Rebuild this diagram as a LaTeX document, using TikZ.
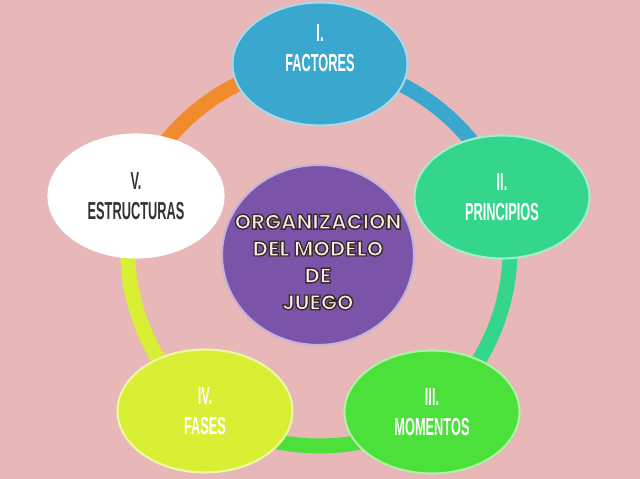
\documentclass[tikz,border=0pt]{standalone}
\usepackage{fontspec}
\usetikzlibrary{shapes.geometric}
\newfontfamily\labelfont[FakeStretch=0.52]{Liberation Sans}
\newfontfamily\titlefont{Poppins}
\definecolor{backpink}{HTML}{E8B8B9}
\definecolor{factblue}{HTML}{3AA8CE}
\definecolor{princgreen}{HTML}{33D68B}
\definecolor{momgreen}{HTML}{4CE03A}
\definecolor{fasyellow}{HTML}{D8EF33}
\definecolor{ringorange}{HTML}{F28B2C}
\definecolor{hubpurple}{HTML}{7B53A8}
\definecolor{titlecream}{HTML}{F7EFDF}
% outlined letters: fill, then stroke in dark brown
\newcommand\edged[1]{\special{pdf:literal direct 2 Tr 0.8 w 0.23 0.17 0.18 RG}#1\special{pdf:literal direct 0 Tr}}
\tikzset{
  bubble/.style={ellipse, minimum width=3.5cm, minimum height=2.46cm, inner sep=0pt, line width=1.2pt},
  ringarc/.style={line width=8.5pt, line cap=butt, bend left=36, looseness=0.88},
  steptext/.style={font=\labelfont\bfseries\fontsize{14}{17}\selectfont, text=white, align=center},
  hubtext/.style={font=\titlefont\bfseries\fontsize{12}{15.3}\selectfont, text=titlecream, align=center},
}
\begin{document}
\begin{tikzpicture}[x=0.02cm, y=-0.02cm]
% Background and page size
\fill[backpink] (0,0) rectangle (640,479);
\useasboundingbox (0,0) rectangle (640,479);

% Define the five stages
\coordinate (fac) at (320,64);
\coordinate (pri) at (502,197);
\coordinate (mom) at (432,412);
\coordinate (fas) at (205,411);
\coordinate (est) at (136,196);

% Draw the ring between the stages
\foreach \from/\to/\col in {est/fac/ringorange, fac/pri/factblue, pri/mom/princgreen, mom/fas/momgreen, fas/est/fasyellow}
  \draw[ringarc, draw=\col] (\from) to (\to);

% Draw the stages
\node[bubble, fill=factblue, draw=factblue!45!white, label={[steptext, yshift=9pt]center:{I.\\FACTORES}}] (facnode) at (fac) {};
\node[bubble, fill=princgreen, draw=princgreen!45!white, label={[steptext]center:{II.\\PRINCIPIOS}}] (prinode) at (pri) {};
\node[bubble, fill=momgreen, draw=momgreen!45!white, label={[steptext]center:{III.\\MOMENTOS}}] (momnode) at (mom) {};
\node[bubble, fill=fasyellow, draw=fasyellow!45!white, label={[steptext]center:{IV.\\FASES}}] (fasnode) at (fas) {};
\node[bubble, fill=white, draw=white, label={[steptext, text=black!80]center:{V.\\ESTRUCTURAS}}] (estnode) at (est) {};

% Draw the centre
\node[ellipse, fill=hubpurple, draw=hubpurple!45!white, line width=1.2pt, minimum width=3.84cm, minimum height=3.6cm, inner sep=0pt,
      label={[hubtext, yshift=-4pt]center:{\edged{ORGANIZACION}\\\edged{DEL MODELO}\\\edged{DE}\\\edged{JUEGO}}}] (hub) at (318,255) {};
\end{tikzpicture}
\end{document}
